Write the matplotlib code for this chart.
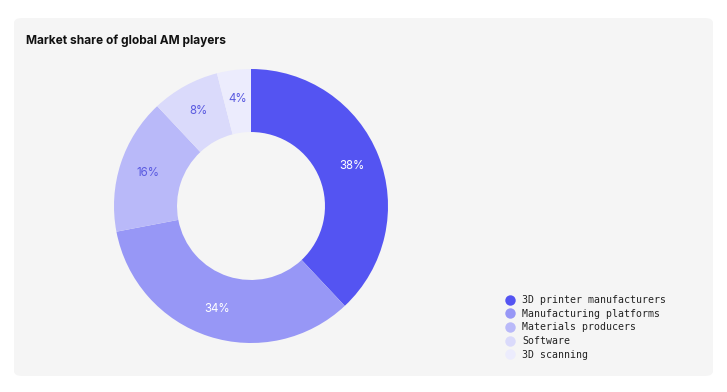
import matplotlib.pyplot as plt
from matplotlib.patches import FancyBboxPatch
from matplotlib.lines import Line2D

# donut of market share, legend in monospace bottom right
categories = ['3D printer manufacturers', 'Manufacturing platforms',
              'Materials producers', 'Software', '3D scanning']
shares = [38, 34, 16, 8, 4]
colors = ['#5454f2', '#9797f6', '#b9b9f9', '#dadafb', '#ececfd']
label_colors = ['white', 'white', '#5a5ae0', '#5a5ae0', '#5a5ae0']

W, H = 727, 392
fig = plt.figure(figsize=(W / 100, H / 100), dpi=100)
fig.patch.set_facecolor('white')

# grey rounded panel
panel = FancyBboxPatch((14 / W, 1 - 376 / H), (713 - 14) / W, (376 - 18) / H,
                       boxstyle='round,pad=0,rounding_size=0.012',
                       transform=fig.transFigure, facecolor='#f5f5f5',
                       edgecolor='none', zorder=-5)
fig.patches.append(panel)

fig.text(26 / W, 1 - 41 / H, 'Market share of global AM players',
         fontsize=8.6, fontweight='bold', family='Inter', color='#111111',
         va='center', ha='left')

cx, cy, r = 251, 206, 137
ax = fig.add_axes([(cx - r) / W, 1 - (cy + r) / H, 2 * r / W, 2 * r / H])
ax.set_zorder(2)
wedges, texts, autotexts = ax.pie(
    shares, colors=colors, startangle=90, counterclock=False,
    radius=1, wedgeprops=dict(width=0.46, edgecolor='none'),
    autopct='%d%%', pctdistance=0.79,
    textprops=dict(fontsize=8.3, family='Inter'))
for t, c in zip(autotexts, label_colors):
    t.set_color(c)
ax.set_xlim(-1, 1)
ax.set_ylim(-1, 1)
ax.set_aspect('equal')
ax.axis('off')

# legend
handles = [Line2D([], [], marker='o', linestyle='none', markersize=7.5,
                  markerfacecolor=c, markeredgecolor='none') for c in colors]
leg = fig.legend(handles, categories, loc='upper left',
                 bbox_to_anchor=(503 / W, 1 - 292 / H), frameon=False,
                 prop=dict(family='DejaVu Sans Mono', size=7.1),
                 handlelength=0.8, handletextpad=0.85, labelspacing=0.38,
                 borderaxespad=0, borderpad=0.3)
leg.set_zorder(3)
for t in leg.get_texts():
    t.set_color('#222222')

fig.savefig('out.png', dpi=100)
